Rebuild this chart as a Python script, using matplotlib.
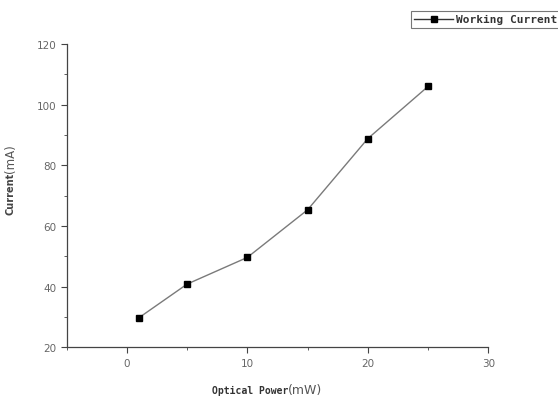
import matplotlib
matplotlib.use("Agg")
import matplotlib.pyplot as plt
from matplotlib.ticker import MultipleLocator

# data
power = [1, 5, 10, 15, 20, 25]
current = [29.7, 40.8, 49.6, 65.3, 88.8, 106.0]
series_name = "Working Current"
xticks = [0, 10, 20, 30]
yticks = [20, 40, 60, 80, 100, 120]

fig = plt.figure(figsize=(5.58, 4.02), dpi=100)
ax = fig.add_axes([0.1195, 0.134, 0.7555, 0.754])

ax.plot(power, current, color="#7a7a7a", lw=1.0, marker="s", ms=4.5,
        mfc="black", mec="black", label=series_name)

ax.set_xlim(-5, 30)
ax.set_ylim(20, 120)
ax.set_xticks(xticks)
ax.set_yticks(yticks)
ax.xaxis.set_minor_locator(MultipleLocator(5))
ax.yaxis.set_minor_locator(MultipleLocator(10))
ax.tick_params(which="major", direction="out", length=4, width=0.8,
               colors="#444444", labelsize=7.5, labelcolor="#666666")
ax.tick_params(which="minor", direction="out", length=2, width=0.6, colors="#444444")
ax.spines["top"].set_visible(False)
ax.spines["right"].set_visible(False)
for s in ("left", "bottom"):
    ax.spines[s].set_color("#444444")
    ax.spines[s].set_linewidth(0.9)

# axis labels: bold mono part + plain sans unit
fig.text(0.516, 0.028, "Optical Power", ha="right", va="center",
         family="DejaVu Sans Mono", weight="bold", fontsize=7, color="#333333")
fig.text(0.516, 0.028, "(mW)", ha="left", va="center",
         family="DejaVu Sans", fontsize=9, color="#555555")
fig.text(0.018, 0.570, "Current", ha="center", va="top", rotation=90,
         family="DejaVu Sans", weight="bold", fontsize=7, color="#444444")
fig.text(0.018, 0.570, "(mA)", ha="center", va="bottom", rotation=90,
         family="DejaVu Sans", fontsize=8.5, color="#555555")

leg = fig.legend(loc="upper left", bbox_to_anchor=(405 / 558, 1 - 6 / 402),
                 prop={"family": "DejaVu Sans Mono", "size": 8, "weight": "bold"},
                 frameon=True, fancybox=False, edgecolor="#555555",
                 handlelength=3.5, borderpad=0.35, handletextpad=0.2)
leg.get_frame().set_linewidth(0.8)
for t in leg.get_texts():
    t.set_color("#333333")
leg.get_lines()[0].set_color("#333333")

fig.savefig("out.png", dpi=100)
